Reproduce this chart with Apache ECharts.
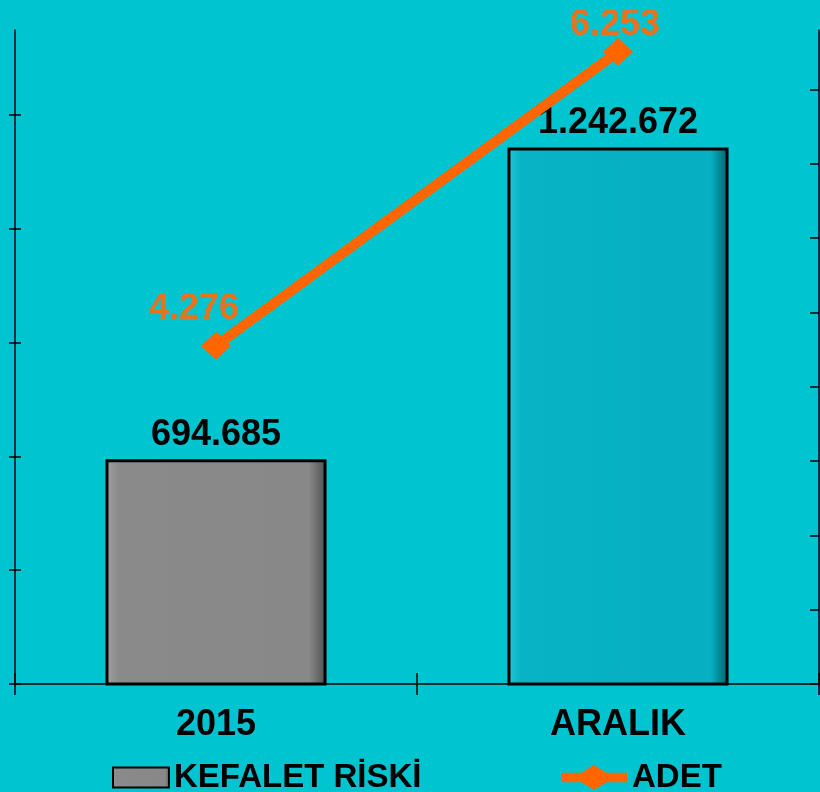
<!DOCTYPE html>
<html>
<head>
<meta charset="utf-8">
<script src="https://cdn.jsdelivr.net/npm/echarts@6/dist/echarts.min.js"></script>
<style>
html,body{margin:0;padding:0;background:#00C5D0;}
#c{width:820px;height:792px;}
</style>
</head>
<body>
<div id="c"></div>
<script>
var categories = ['2015', 'ARALIK'];
var riskValues = [694685, 1242672];
var countValues = [4276, 6253];
var leftTicks = [300000, 500000, 700000, 900000, 1100000, 1300000];
var rightTicks = [2000, 2500, 3000, 3500, 4000, 4500, 5000, 5500, 6000];

function fmt(v) { return String(v).replace(/\B(?=(\d{3})+(?!\d))/g, '.'); }
var FONT = '"Liberation Sans", Arial, sans-serif';

var barColors = [
  new echarts.graphic.LinearGradient(0, 0, 1, 0, [
    {offset: 0, color: '#a0a0a0'}, {offset: 0.06, color: '#8a8a8a'},
    {offset: 0.92, color: '#888888'}, {offset: 1, color: '#4e4e4e'}]),
  new echarts.graphic.LinearGradient(0, 0, 1, 0, [
    {offset: 0, color: '#22c8d8'}, {offset: 0.06, color: '#07b3c5'},
    {offset: 0.92, color: '#06afc1'}, {offset: 1, color: '#04606a'}])
];
var lineLabelOpts = [
  {distance: 8, offset: [-22, 3]},
  {distance: 0, offset: [-3, 5]}
];

var chart = echarts.init(document.getElementById('c'));
chart.setOption({
  backgroundColor: '#00C5D0',
  animation: false,
  grid: {left: 15, right: 1, top: 30, bottom: 108},
  legend: [{
    data: [{name: 'KEFALET RİSKİ', icon: 'rect'}], left: 107, top: 756, itemWidth: 56, itemHeight: 20,
    itemGap: 0,
    textStyle: {fontFamily: FONT, fontWeight: 'bold', fontSize: 33, color: '#000'}
  }, {
    data: [{name: 'ADET', icon: 'path://M0,8L21,8L34,0L47,8L68,8L68,18L47,18L34,26L21,18L0,18Z'}],
    left: 556, top: 756, itemWidth: 66, itemHeight: 26,
    itemStyle: {color: '#FF6600', borderWidth: 0},
    textStyle: {fontFamily: FONT, fontWeight: 'bold', fontSize: 33, color: '#000'}
  }],
  xAxis: [{
    type: 'category', data: categories, position: 'bottom',
    axisLine: {lineStyle: {color: '#000', width: 1.5}},
    axisTick: {show: true, length: 11, lineStyle: {color: '#000', width: 1.5}},
    axisLabel: {margin: 23, fontFamily: FONT, fontWeight: 'bold', fontSize: 36, color: '#000'}
  }, {
    type: 'category', data: categories, position: 'bottom',
    axisLine: {show: false},
    axisTick: {show: true, inside: true, length: 11, lineStyle: {color: '#000', width: 1.5}},
    axisLabel: {show: false}
  }],
  yAxis: [{
    type: 'value', position: 'left', min: 300000, max: 1449000,
    splitLine: {show: false},
    axisLine: {show: true, lineStyle: {color: '#000', width: 1.5}},
    axisTick: {show: true, length: 6, customValues: leftTicks, lineStyle: {color: '#000', width: 1.5}},
    axisLabel: {show: false}
  }, {
    type: 'value', position: 'right', min: 2000, max: 6400,
    splitLine: {show: false},
    axisLine: {show: true, lineStyle: {color: '#000', width: 1.5}},
    axisTick: {show: true, inside: true, length: 9, customValues: rightTicks, lineStyle: {color: '#000', width: 1.5}},
    axisLabel: {show: false}
  }, {
    type: 'value', position: 'left', min: 300000, max: 1449000,
    splitLine: {show: false},
    axisLine: {show: false},
    axisTick: {show: true, inside: true, length: 6, customValues: leftTicks, lineStyle: {color: '#000', width: 1.5}},
    axisLabel: {show: false}
  }],
  series: [{
    name: 'KEFALET RİSKİ', type: 'bar', yAxisIndex: 0, barWidth: '55%',
    data: riskValues.map(function (v, i) {
      return {value: v, itemStyle: {color: barColors[i], borderColor: '#000', borderWidth: 3}};
    }),
    itemStyle: {color: barColors[0], borderColor: '#000', borderWidth: 3},
    label: {show: true, position: 'top', distance: 6, formatter: function (p) { return fmt(p.value); },
      fontFamily: FONT, fontWeight: 'bold', fontSize: 36, color: '#000'}
  }, {
    name: 'ADET', type: 'line', yAxisIndex: 1,
    symbol: 'diamond', symbolSize: [30, 28],
    lineStyle: {color: '#FF6600', width: 10},
    itemStyle: {color: '#FF6600'},
    data: countValues.map(function (v, i) {
      return {value: v, label: lineLabelOpts[i]};
    }),
    label: {show: true, position: 'top', formatter: function (p) { return fmt(p.value); },
      fontFamily: FONT, fontWeight: 'bold', fontSize: 36, color: '#E8731E'}
  }]
});
</script>
</body>
</html>
